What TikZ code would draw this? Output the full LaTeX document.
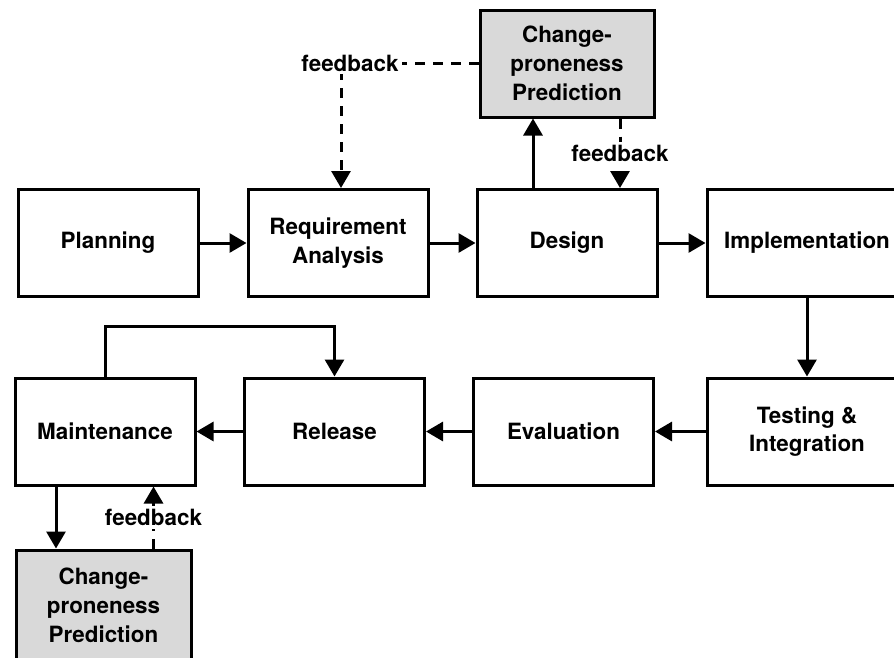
\documentclass[tikz,border=0pt]{standalone}
\usepackage{fontspec}
\setmainfont{TeX Gyre Heros}
\usetikzlibrary{arrows.meta}
\definecolor{cpgray}{HTML}{D9D9D9}
\begin{document}
\begin{tikzpicture}[x=1pt,y=-1pt,
  lbl/.style={font=\fontsize{22.4}{28.8}\selectfont\bfseries},
  box/.style={lbl,draw,line width=3pt,minimum width=180pt,minimum height=107pt,
    align=center,inner sep=0pt},
  cpbox/.style={box,fill=cpgray,minimum width=174pt},
  arr/.style={line width=3pt,-{Triangle[length=17pt,width=19pt]}},
  fb/.style={dash pattern=on 10pt off 8pt},
  fblabel/.style={lbl,fill=white,inner sep=3pt}
]
\useasboundingbox (0,0) rectangle (894,657);
\clip (0,0) rectangle (894,657);

% process stages, first row
\node[box] (planning) at (108,243) {Planning};
\node[box] (req) at (338,243) {Requirement\\Analysis};
\node[box] (design) at (567,243) {Design};
\node[box,minimum width=200pt] (impl) at (807,243) {Implementation};

% process stages, second row
\node[box,minimum width=200pt] (testing) at (807,431.5) {Testing \&\\Integration};
\node[box] (eval) at (563.5,431.5) {Evaluation};
\node[box] (release) at (334.5,431.5) {Release};
\node[box] (maint) at (105,431.5) {Maintenance};

% prediction boxes
\node[cpbox] (cp1) at (567,63.5) {Change-\\proneness\\Prediction};
\node[cpbox,minimum width=175pt,minimum height=110pt] (cp2) at (103.5,605) {Change-\\proneness\\Prediction};

% main flow
\draw[arr] (planning) -- (req);
\draw[arr] (req) -- (design);
\draw[arr] (design) -- (impl);
\draw[arr] (impl) -- (testing);
\draw[arr] (testing) -- (eval);
\draw[arr] (eval) -- (release);
\draw[arr] (release) -- (maint);
\draw[arr] (maint.north) -- ++(0,-50) -| (release.north);

% design-time prediction and its feedback
\draw[arr] ([xshift=-34pt]design.north) -- ([xshift=-34pt]design.north |- cp1.south);
\draw[arr,fb] ([xshift=53pt]cp1.south) -- ([xshift=53pt]cp1.south |- design.north)
  node[midway,fblabel] (fb2) {feedback};
\draw[arr,fb] (cp1.west) -| ([xshift=3pt]req.north);
\node[fblabel] (fb1) at (350,63) {feedback};

% maintenance-time prediction and its feedback
\draw[arr] ([xshift=-49pt]maint.south) -- ([xshift=-49pt]maint.south |- cp2.north);
\draw[arr,fb] ([xshift=50pt]cp2.north) -- ([xshift=50pt]cp2.north |- maint.south)
  node[midway,fblabel] (fb3) {feedback};
\end{tikzpicture}
\end{document}
